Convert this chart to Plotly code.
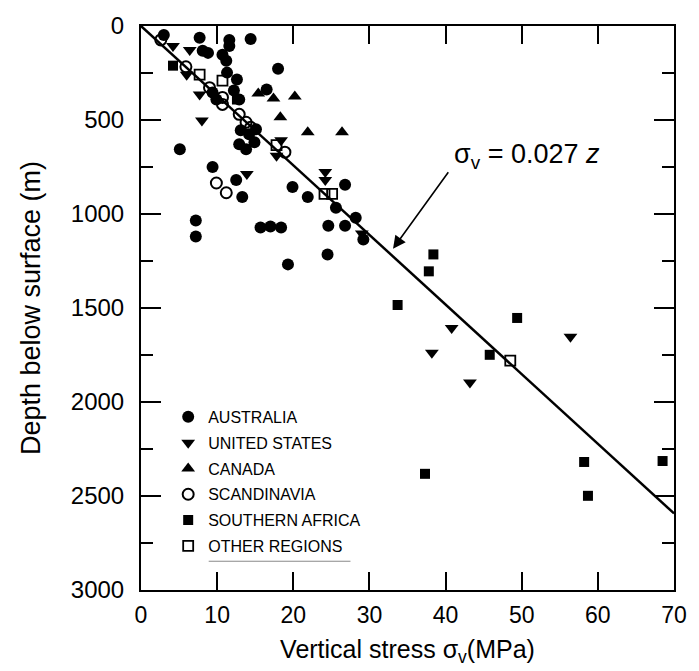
import plotly.graph_objects as go

# ---------------- data ----------------
aus_stress = [3.0, 7.7, 11.6, 11.6, 14.4, 10.7, 11.2, 8.1, 8.8, 9.4, 9.9, 12.6, 18.0, 16.5,
              12.9, 13.1, 12.9, 13.8, 15.1, 5.1, 9.4, 12.5, 13.3, 7.2, 7.2, 15.7, 17.0, 18.4,
              19.3, 24.6, 24.5, 25.6, 26.8, 28.2, 29.2, 19.9, 21.9, 26.8, 12.2, 11.3, 14.2, 14.9]
aus_depth = [48, 63, 74, 106, 69, 153, 185, 132, 143, 354, 391, 285, 227, 338,
             391, 555, 629, 655, 549, 655, 750, 819, 909, 1035, 1120, 1072, 1067, 1072,
             1268, 1062, 1215, 967, 1062, 1020, 1136, 856, 909, 845, 343, 248, 576, 618]

us_stress = [4.2, 6.4, 6.0, 7.7, 8.0, 13.9, 18.4, 17.8, 24.2, 24.2, 29.0, 40.8, 56.4, 38.2, 43.2]
us_depth = [106, 127, 259, 365, 502, 787, 608, 690, 777, 819, 1104, 1606, 1653, 1738, 1896]

can_stress = [15.4, 17.4, 20.2, 18.3, 21.9, 26.4]
can_depth = [359, 386, 375, 486, 565, 565]

sca_stress = [2.6, 5.9, 9.0, 10.7, 10.7, 12.9, 13.8, 14.4, 18.9, 9.9, 11.2]
sca_depth = [74, 217, 328, 417, 380, 470, 512, 539, 671, 835, 887]

saf_stress = [4.2, 12.6, 38.4, 37.8, 33.7, 49.4, 45.8, 37.3, 58.2, 58.7, 68.5]
saf_depth = [211, 391, 1215, 1305, 1484, 1553, 1749, 2382, 2319, 2499, 2314]

oth_stress = [7.7, 10.7, 17.8, 24.1, 25.1, 48.5]
oth_depth = [259, 291, 634, 893, 893, 1780]

# trend line sigma_v = 0.027 z
coef = 0.027
line_stress = [0, 70]
line_depth = [s / coef for s in line_stress]

x_ticks = [0, 10, 20, 30, 40, 50, 60, 70]
y_ticks = [0, 500, 1000, 1500, 2000, 2500, 3000]

# ---------------- figure ----------------
fig = go.Figure()

fig.add_trace(go.Scatter(x=line_stress, y=line_depth, mode="lines",
                         line=dict(color="black", width=2.5), showlegend=False,
                         hoverinfo="skip"))

def add(name, xs, ys, symbol, size, lw, grp):
    fig.add_trace(go.Scatter(
        x=xs, y=ys, mode="markers", name=name, legendgroup=grp,
        marker=dict(symbol=symbol, size=size, color="black",
                    line=dict(color="black", width=lw))))

add("AUSTRALIA", aus_stress, aus_depth, "circle", 12, 0, "a")
add("UNITED STATES", us_stress, us_depth, "triangle-down", 12, 0, "b")
add("CANADA", can_stress, can_depth, "triangle-up", 12, 0, "c")
add("SCANDINAVIA", sca_stress, sca_depth, "circle-open", 11, 2, "d")
add("SOUTHERN AFRICA", saf_stress, saf_depth, "square", 10, 0, "e")
add("OTHER REGIONS", oth_stress, oth_depth, "square-open", 10, 1.8, "f")

font_family = "Liberation Sans, Arial, sans-serif"

fig.update_xaxes(range=[0, 70], tickvals=x_ticks, ticks="inside", ticklen=18,
                 tickwidth=2, tickcolor="black", showline=True, linewidth=2,
                 linecolor="black", mirror="ticks", showgrid=False, zeroline=False,
                 ticklabelstandoff=3,
                 tickfont=dict(size=23, color="black", family=font_family),
                 title=dict(text="Vertical stress σ<sub>v</sub>(MPa)",
                            font=dict(size=25, color="black", family=font_family),
                            standoff=14))
fig.update_yaxes(range=[3000, 0], tickvals=y_ticks, ticks="inside", ticklen=20,
                 tickwidth=2, tickcolor="black", showline=True, linewidth=2,
                 linecolor="black", mirror="ticks", showgrid=False, zeroline=False,
                 minor=dict(ticks="inside", ticklen=12, tickwidth=2, tickcolor="black",
                            dtick=250, showgrid=False),
                 ticklabelstandoff=10,
                 tickfont=dict(size=24, color="black", family=font_family),
                 title=dict(text="Depth below surface (m)",
                            font=dict(size=27, color="black", family=font_family),
                            standoff=22))

fig.add_annotation(x=33.1, y=1185, ax=40.5, ay=770, xref="x", yref="y",
                   axref="x", ayref="y", text="", showarrow=True, arrowhead=2,
                   arrowsize=1.6, arrowwidth=1.6, arrowcolor="black")
fig.add_annotation(x=50.7, y=690, xref="x", yref="y",
                   text="σ<sub>v</sub> = 0.027 <i>z</i>", showarrow=False,
                   font=dict(size=27, color="black", family=font_family))

fig.add_shape(type="line", xref="paper", yref="paper", x0=0.127, x1=0.393,
              y0=0.051, y1=0.051, line=dict(color="#888888", width=1))

fig.update_layout(
    width=699, height=671,
    margin=dict(l=141, r=13, t=22, b=80),
    paper_bgcolor="white", plot_bgcolor="white",
    legend=dict(x=0.051, y=0.337, xanchor="left", yanchor="top",
                bgcolor="rgba(0,0,0,0)", tracegroupgap=2,
                font=dict(size=16, color="black", family=font_family)),
    font=dict(family=font_family, color="black"),
)

fig.write_html("out.html", config={"displayModeBar": False},
               post_script="document.body.style.margin='0';")
